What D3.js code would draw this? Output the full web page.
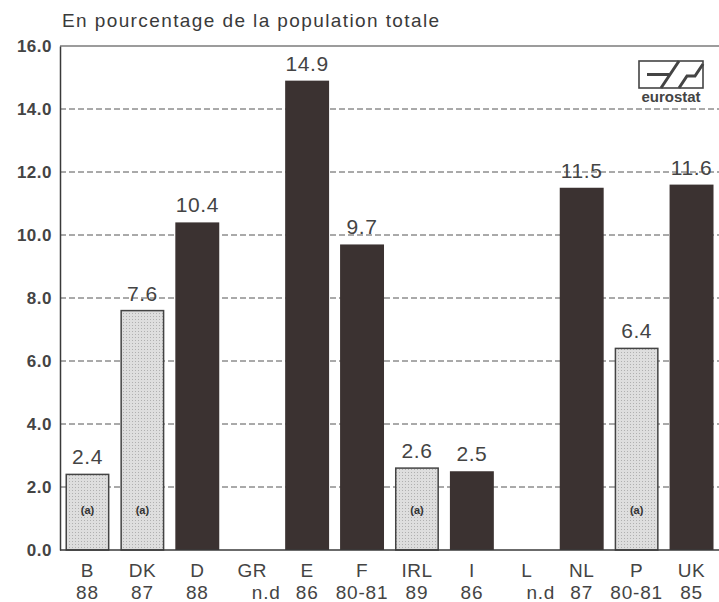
<!DOCTYPE html>
<html>
<head>
<meta charset="utf-8">
<script src="https://cdn.jsdelivr.net/npm/d3@7"></script>
<style>
  html, body { margin: 0; padding: 0; background: #fff; }
  svg { display: block; }
</style>
</head>
<body>
<div id="chart"></div>
<script>
// données
const categories = ['B', 'DK', 'D', 'GR', 'E', 'F', 'IRL', 'I', 'L', 'NL', 'P', 'UK']
const years = ['88', '87', '88', 'n.d', '86', '80-81', '89', '86', 'n.d', '87', '80-81', '85']
const values = [2.4, 7.6, 10.4, null, 14.9, 9.7, 2.6, 2.5, null, 11.5, 6.4, 11.6]
// barres claires marquées (a)
const noteA = [true, true, false, false, false, false, true, false, false, false, true, false]
const yTicks = [0, 2, 4, 6, 8, 10, 12, 14, 16]
const title = 'En pourcentage de la population totale'

const width = 719
const height = 602
const margin = { top: 46, right: 0, bottom: 52, left: 60 }
const chartWidth = width - margin.left - margin.right
const chartHeight = height - margin.top - margin.bottom

const ink = '#3a3a3a'
const darkBar = '#3b3231'
const lightBar = '#dedede'
const font = "'Liberation Sans', Arial, sans-serif"

const data = categories.map((c, i) => ({ cat: c, year: years[i], value: values[i], light: noteA[i] }))

const svg = d3.select('#chart')
  .append('svg')
  .attr('width', width)
  .attr('height', height)
  .style('font-family', font)

// motif pointillé des barres claires
const defs = svg.append('defs')
const pat = defs.append('pattern')
  .attr('id', 'dots')
  .attr('width', 3)
  .attr('height', 3)
  .attr('patternUnits', 'userSpaceOnUse')
pat.append('rect').attr('width', 3).attr('height', 3).attr('fill', lightBar)
pat.append('rect').attr('width', 1).attr('height', 1).attr('fill', '#b0b0b0')

svg.append('rect')
  .attr('width', width)
  .attr('height', height)
  .attr('fill', '#fff')

// titre
svg.append('text')
  .attr('x', 62)
  .attr('y', 27)
  .attr('font-size', 19)
  .attr('fill', ink)
  .attr('letter-spacing', 1.4)
  .text(title)

const yScale = d3.scaleLinear()
  .domain([0, 16])
  .range([chartHeight, 0])

const xScale = d3.scaleBand()
  .domain(categories)
  .range([0, chartWidth])
  .paddingInner(0.2)
  .paddingOuter(0.1)

const g = svg.append('g')
  .attr('transform', `translate(${margin.left},${margin.top})`)

// grille pointillée
g.append('g')
  .selectAll('line')
  .data(yTicks.filter(d => d > 0 && d < 16))
  .join('line')
  .attr('x1', 0)
  .attr('x2', chartWidth)
  .attr('y1', d => yScale(d))
  .attr('y2', d => yScale(d))
  .attr('stroke', '#555')
  .attr('stroke-width', 1)
  .attr('stroke-dasharray', '6,3')

// cadre haut
g.append('line')
  .attr('x1', 0).attr('x2', chartWidth)
  .attr('y1', yScale(16)).attr('y2', yScale(16))
  .attr('stroke', ink).attr('stroke-width', 1.2)

// axe y
const yAxis = g.append('g')
  .call(d3.axisLeft(yScale).tickValues(yTicks).tickFormat(d3.format('.1f')).tickSize(0).tickPadding(8))
yAxis.select('.domain').attr('stroke', ink).attr('stroke-width', 1.5)
yAxis.selectAll('text')
  .attr('font-size', 17)
  .attr('font-weight', 'bold')
  .attr('fill', '#444')
  .attr('font-family', font)
  .attr('letter-spacing', 0.5)

// barres
const bars = data.filter(d => d.value != null)
g.append('g')
  .selectAll('rect')
  .data(bars)
  .join('rect')
  .attr('x', d => xScale(d.cat) + (d.light ? 0.75 : 0))
  .attr('y', d => yScale(d.value))
  .attr('width', d => xScale.bandwidth() - (d.light ? 1.5 : 0))
  .attr('height', d => yScale(0) - yScale(d.value))
  .attr('fill', d => d.light ? 'url(#dots)' : darkBar)
  .attr('stroke', d => d.light ? '#444' : 'none')
  .attr('stroke-width', 1.5)

// valeurs
g.append('g')
  .selectAll('text')
  .data(bars)
  .join('text')
  .attr('x', d => xScale(d.cat) + xScale.bandwidth() / 2)
  .attr('y', d => yScale(d.value) - 10)
  .attr('text-anchor', 'middle')
  .attr('font-size', 21)
  .attr('letter-spacing', 0.6)
  .attr('fill', '#444')
  .text(d => d.value.toFixed(1))

// notes (a)
g.append('g')
  .selectAll('text')
  .data(bars.filter(d => d.light))
  .join('text')
  .attr('x', d => xScale(d.cat) + xScale.bandwidth() / 2)
  .attr('y', yScale(1.15))
  .attr('text-anchor', 'middle')
  .attr('font-size', 11)
  .attr('font-weight', 'bold')
  .attr('fill', '#333')
  .text('(a)')

// axe x
g.append('line')
  .attr('x1', 0).attr('x2', chartWidth)
  .attr('y1', yScale(0)).attr('y2', yScale(0))
  .attr('stroke', ink).attr('stroke-width', 1.5)

const xl = g.append('g')
  .selectAll('g')
  .data(data)
  .join('g')
  .attr('transform', d => `translate(${xScale(d.cat) + xScale.bandwidth() / 2},${chartHeight})`)
xl.append('text')
  .attr('y', 27)
  .attr('text-anchor', 'middle')
  .attr('font-size', 19)
  .attr('fill', '#444')
  .attr('letter-spacing', 0.5)
  .text(d => d.cat)
xl.append('text')
  .attr('y', 49)
  .attr('x', d => d.year === 'n.d' ? 14 : 0)
  .attr('text-anchor', 'middle')
  .attr('font-size', 19)
  .attr('fill', '#444')
  .attr('letter-spacing', 0.8)
  .text(d => d.year)

// logo eurostat
const logo = svg.append('g').attr('transform', 'translate(639,61)')
logo.append('rect')
  .attr('width', 64).attr('height', 27)
  .attr('fill', 'none').attr('stroke', '#444').attr('stroke-width', 1.6)
logo.append('path')
  .attr('d', 'M8,13.5 H30 M22,27 L40,0 M40,27 L48,15 H56 L64,3')
  .attr('fill', 'none').attr('stroke', '#444').attr('stroke-width', 3)
logo.append('text')
  .attr('x', 32).attr('y', 41)
  .attr('text-anchor', 'middle')
  .attr('font-size', 15)
  .attr('font-weight', 'bold')
  .attr('fill', '#444')
  .text('eurostat')
</script>
</body>
</html>
